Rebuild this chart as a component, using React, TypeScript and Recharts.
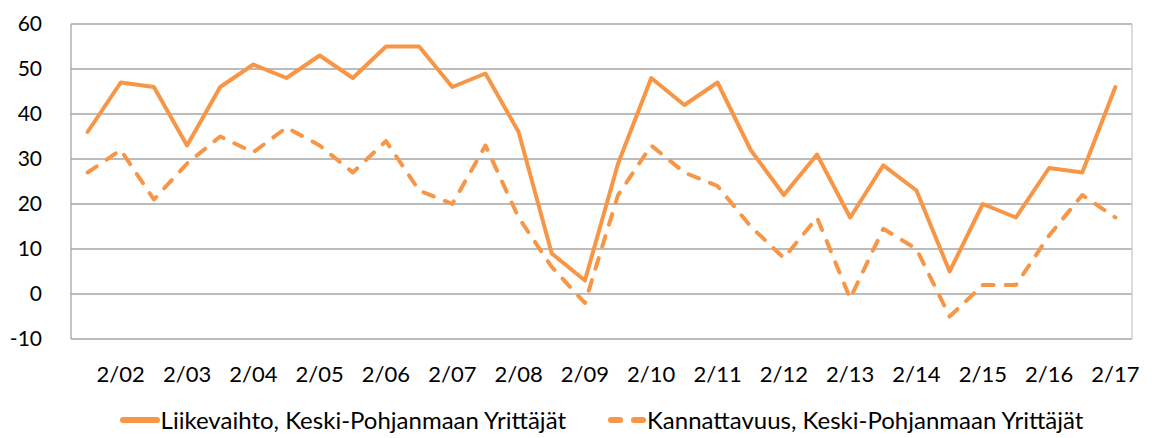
import { LineChart, Line, XAxis, YAxis, CartesianGrid, Legend } from 'recharts'

const periods = [
  '1/02', '2/02', '1/03', '2/03', '1/04', '2/04', '1/05', '2/05',
  '1/06', '2/06', '1/07', '2/07', '1/08', '2/08', '1/09', '2/09',
  '1/10', '2/10', '1/11', '2/11', '1/12', '2/12', '1/13', '2/13',
  '1/14', '2/14', '1/15', '2/15', '1/16', '2/16', '1/17', '2/17',
]

const liikevaihto = [
  36, 47, 46, 33, 46, 51, 48, 53, 48, 55, 55, 46, 49, 36, 9, 3,
  29, 48, 42, 47, 32, 22, 31, 17, 28.6, 23, 5, 20, 17, 28, 27, 46,
]

const kannattavuus = [
  27, 32, 21, 29, 35, 31.5, 37, 33, 27, 34, 23, 20, 33, 17, 6, -2,
  22, 33, 27, 24, 15, 8, 17, -1, 14.5, 10, -5, 2, 2, 13, 22, 17,
]

const yTicks = [-10, 0, 10, 20, 30, 40, 50, 60]

const ORANGE = '#F79646'
const FONT = 'Lato, Calibri, sans-serif'
// half a category slot, so points sit in the middle of each slot
const HALF_SLOT = 1061 / periods.length / 2

const data = periods.map((p, i) => ({
  period: p,
  liike: liikevaihto[i],
  kann: kannattavuus[i],
}))

const LegendContent = () => (
  <div style={{ display: 'flex', justifyContent: 'center', alignItems: 'center', fontFamily: FONT, fontSize: 24, color: '#000', lineHeight: '28px' }}>
    <svg width={40} height={10} style={{ marginRight: 1 }}>
      <line x1={3} y1={5} x2={37} y2={5} stroke={ORANGE} strokeWidth={6} strokeLinecap="round" />
    </svg>
    <span>Liikevaihto, Keski-Pohjanmaan Yrittäjät</span>
    <svg width={38} height={10} style={{ marginLeft: 42, marginRight: 1 }}>
      <line x1={3} y1={5} x2={35} y2={5} stroke={ORANGE} strokeWidth={6} strokeLinecap="round" strokeDasharray="9 14" />
    </svg>
    <span>Kannattavuus, Keski-Pohjanmaan Yrittäjät</span>
  </div>
)

export default function App() {
  return (
    <div>
      <style>{'body{margin:0}'}</style>
      <LineChart width={1154} height={438} data={data} margin={{ top: 24, right: 21, bottom: 0, left: 0 }}>
        <CartesianGrid vertical={false} stroke="#A6A6A6" strokeWidth={1.3} />
        <XAxis
          dataKey="period"
          interval={0}
          padding={{ left: HALF_SLOT, right: HALF_SLOT }}
          tickLine={false}
          axisLine={false}
          height={67}
          tickMargin={21}
          tick={{ fill: '#000', fontSize: 22, fontFamily: FONT }}
          tickFormatter={(v: string) => (v.startsWith('2/') ? v : '')}
        />
        <YAxis
          domain={[-10, 60]}
          ticks={yTicks}
          interval={0}
          width={71}
          tickLine={false}
          axisLine={{ stroke: '#A6A6A6', strokeWidth: 1.3 }}
          tickMargin={23}
          tick={{ fill: '#000', fontSize: 21, fontFamily: FONT }}
        />
        <YAxis
          yAxisId="border"
          orientation="right"
          domain={[-10, 60]}
          width={1}
          tick={false}
          tickLine={false}
          axisLine={{ stroke: '#C8C8C8', strokeWidth: 1.3 }}
        />
        <Legend verticalAlign="bottom" height={32} content={<LegendContent />} wrapperStyle={{ left: 71, width: 1061 }} />
        <Line
          type="linear"
          dataKey="liike"
          name="Liikevaihto, Keski-Pohjanmaan Yrittäjät"
          stroke={ORANGE}
          strokeWidth={4}
          strokeLinejoin="round"
          strokeLinecap="round"
          dot={false}
          activeDot={false}
          isAnimationActive={false}
        />
        <Line
          type="linear"
          dataKey="kann"
          name="Kannattavuus, Keski-Pohjanmaan Yrittäjät"
          stroke={ORANGE}
          strokeWidth={4}
          strokeDasharray="11 12"
          strokeLinejoin="round"
          strokeLinecap="round"
          dot={false}
          activeDot={false}
          isAnimationActive={false}
        />
      </LineChart>
    </div>
  )
}
